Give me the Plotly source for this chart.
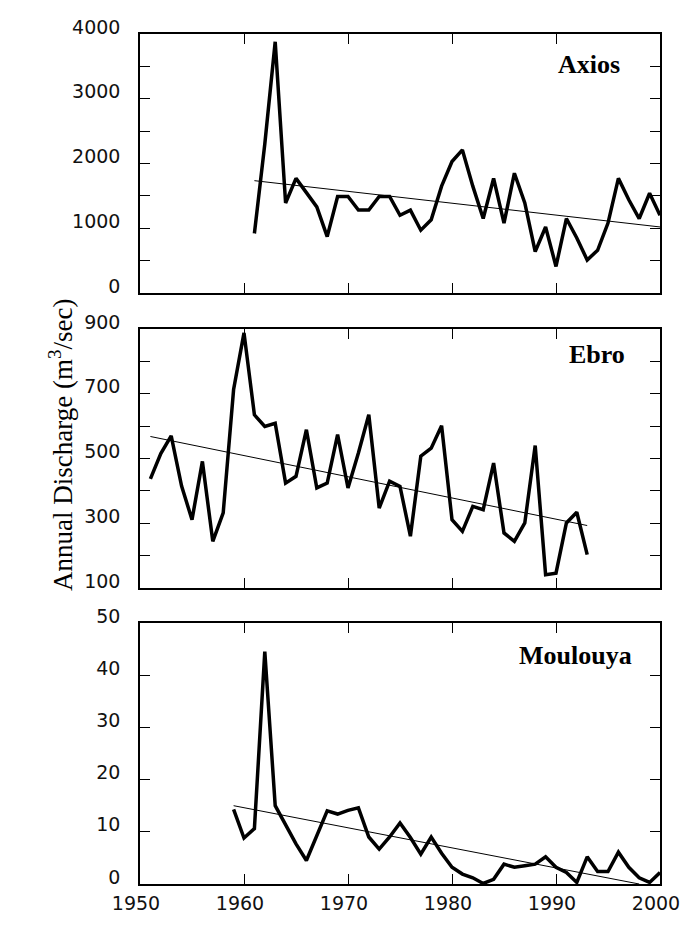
import plotly.graph_objects as go

# ---------------- data ----------------
axios_years = list(range(1961, 2001))
axios_q = [920, 2300, 3880, 1390, 1770, 1540, 1330, 870, 1490, 1490,
           1280, 1280, 1490, 1490, 1200, 1280, 970, 1130, 1650, 2030,
           2210, 1650, 1150, 1770, 1080, 1850, 1390, 640, 1020, 410,
           1150, 850, 510, 660, 1080, 1770, 1440, 1150, 1540, 1200]
axios_trend_years = [1961, 2000]
axios_trend_q = [1735, 1020]

ebro_years = list(range(1951, 1994))
ebro_q = [437, 515, 570, 415, 311, 491, 244, 332, 713, 888,
          635, 599, 609, 424, 445, 589, 409, 424, 574, 409,
          517, 635, 347, 430, 414, 260, 507, 532, 601, 311,
          275, 352, 342, 486, 270, 244, 301, 540, 141, 146,
          301, 334, 203]
ebro_trend_years = [1951, 1993]
ebro_trend_q = [568, 293]

moulouya_years = list(range(1959, 2001))
moulouya_q = [14.3, 8.8, 10.6, 44.5, 15.0, 11.3, 7.7, 4.5, 9.3, 14.0,
              13.4, 14.1, 14.6, 9.0, 6.7, 9.0, 11.7, 8.9, 5.7, 9.0,
              5.9, 3.2, 1.9, 1.2, 0.1, 0.9, 3.8, 3.2, 3.5, 3.8,
              5.2, 3.2, 2.2, 0.3, 5.2, 2.4, 2.4, 6.1, 3.2, 1.2,
              0.3, 2.2]
moulouya_trend_years = [1959, 1998]
moulouya_trend_q = [15.0, 0.0]

river_names = ["Axios", "Ebro", "Moulouya"]
x_ticks = [1950, 1960, 1970, 1980, 1990, 2000]
axios_ticks = [0, 500, 1000, 1500, 2000, 2500, 3000, 3500, 4000]
axios_labels = ["0", "", "1000", "", "2000", "", "3000", "", "4000"]
ebro_ticks = [100, 200, 300, 400, 500, 600, 700, 800, 900]
ebro_labels = ["100", "", "300", "", "500", "", "700", "", "900"]
moulouya_ticks = [0, 10, 20, 30, 40, 50]
moulouya_labels = ["0", "10", "20", "30", "40", "50"]
y_title = "Annual Discharge (m<sup>3</sup>/sec)"

# ---------------- figure ----------------
W, H = 682, 935
fig = go.Figure()

series = [
    (axios_years, axios_q, axios_trend_years, axios_trend_q),
    (ebro_years, ebro_q, ebro_trend_years, ebro_trend_q),
    (moulouya_years, moulouya_q, moulouya_trend_years, moulouya_trend_q),
]
for i, (yrs, q, tyrs, tq) in enumerate(series):
    suffix = "" if i == 0 else str(i + 1)
    fig.add_trace(go.Scatter(x=yrs, y=q, mode="lines",
                             line=dict(color="black", width=3.5),
                             xaxis="x" + suffix, yaxis="y" + suffix,
                             showlegend=False))
    fig.add_trace(go.Scatter(x=tyrs, y=tq, mode="lines",
                             line=dict(color="black", width=1),
                             xaxis="x" + suffix, yaxis="y" + suffix,
                             showlegend=False))

# pixel layout of the panels (top, bottom in px from the top)
panels = [(34, 293), (329, 588), (623, 884)]
x_left, x_right = 140, 660
yranges = [[0, 4000], [100, 900], [0, 50]]
yticks = [(axios_ticks, axios_labels), (ebro_ticks, ebro_labels),
          (moulouya_ticks, moulouya_labels)]

tick_font = dict(family="DejaVu Sans, Verdana, sans-serif", size=19, color="#111111")
layout = dict(width=W, height=H, margin=dict(l=0, r=0, t=0, b=0),
              paper_bgcolor="white", plot_bgcolor="white", showlegend=False)

for i, (top, bot) in enumerate(panels):
    suffix = "" if i == 0 else str(i + 1)
    dom_y = [1 - bot / H, 1 - top / H]
    tv, tt = yticks[i]
    layout["xaxis" + suffix] = dict(
        domain=[x_left / W, x_right / W], range=[1950, 2000],
        anchor="y" + suffix, tickvals=x_ticks,
        showticklabels=(i == 2), ticks="inside", ticklen=10, tickwidth=1,
        tickcolor="black", mirror="ticks", showline=True, linecolor="black",
        linewidth=1.5, showgrid=False, zeroline=False, tickfont=tick_font,
        ticklabelstandoff=1, ticklabelshift=-4, automargin=False,
    )
    layout["yaxis" + suffix] = dict(
        domain=dom_y, range=yranges[i], anchor="x" + suffix,
        tickvals=tv, ticktext=tt, ticks="inside", ticklen=10, tickwidth=1,
        tickcolor="black", mirror="ticks", showline=True, linecolor="black",
        linewidth=1.5, showgrid=False, zeroline=False, tickfont=tick_font,
        ticklabelstandoff=14, ticklabelshift=-7, automargin=False,
    )

fig.update_layout(**layout)

# panel names
name_pos = [(622, 64), (627, 354), (634, 655)]
for name, (px, py) in zip(river_names, name_pos):
    fig.add_annotation(text="<b>" + name + "</b>", xref="paper", yref="paper",
                       x=px / W, y=1 - py / H, xanchor="right", yanchor="middle",
                       showarrow=False,
                       font=dict(family="Liberation Serif, Times New Roman, serif",
                                 size=26, color="black"))

# y-axis title
fig.add_annotation(text=y_title, xref="paper", yref="paper",
                   x=61 / W, y=1 - 445 / H, xanchor="center", yanchor="middle",
                   textangle=-90, showarrow=False,
                   font=dict(family="Liberation Serif, Times New Roman, serif",
                             size=27, color="black"))

fig.write_html("out.html")
